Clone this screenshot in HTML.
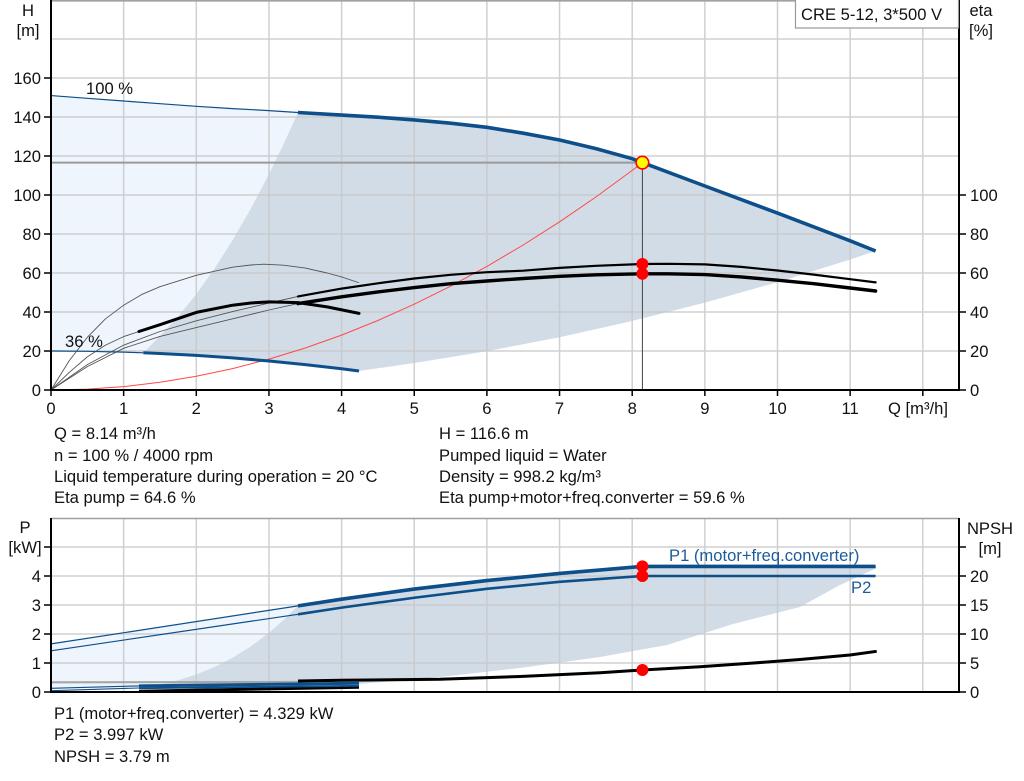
<!DOCTYPE html>
<html><head><meta charset="utf-8"><style>
html,body{margin:0;padding:0;background:#fff;}
svg{display:block;}
text{font-family:"Liberation Sans",Arial,sans-serif;font-size:16.6px;fill:#111;}
</style></head><body>
<svg width="1024" height="781" viewBox="0 0 1024 781" xmlns="http://www.w3.org/2000/svg">
<rect width="1024" height="781" fill="#fff"/>
<!-- TOP CHART fills -->
<path fill="#eef5fc" d="M51,95.55 L87.3,98.3 L123.65,101 L160,103.7 L196.3,106.3 L232.6,108.6 L269,110.6 L298,112.5 L283.5,144.3 L269,174.1 L250.8,208.6 L232.6,240.1 L214.5,268.5 L196.3,294.1 L178.1,316.5 L160,336 L143.3,352.8 L123.65,352.1 L87.3,351.3 L51,351 Z"/>
<path fill="#d1dce7" d="M298,112.5 L341.6,115.05 L377.9,117.2 L414.25,119.9 L450.6,123.2 L486.9,127.3 L523.2,133.2 L559.6,140 L595.9,148.6 L632.2,158.7 L642.4,162.6 L704.9,186 L777.5,213.1 L850.2,240.8 L875.6,251 L850.2,259.5 L777.5,282.2 L704.9,302.6 L632.2,321 L559.6,337.2 L486.9,351.2 L414.25,363 L359,371 L341.6,368.8 L305.3,364.6 L269,361 L232.6,357.9 L196.3,355.4 L160,353.5 L143.3,352.8 L160,336 L178.1,316.5 L196.3,294.1 L214.5,268.5 L232.6,240.1 L250.8,208.6 L269,174.1 L283.5,144.3 L298,112.5 Z"/>
<!-- top grid -->
<g stroke="#c8c8c8" stroke-width="1.5" opacity="0.85">
<line x1="123.65" y1="0" x2="123.65" y2="390"/><line x1="196.3" y1="0" x2="196.3" y2="390"/><line x1="268.95" y1="0" x2="268.95" y2="390"/><line x1="341.6" y1="0" x2="341.6" y2="390"/><line x1="414.25" y1="0" x2="414.25" y2="390"/><line x1="486.9" y1="0" x2="486.9" y2="390"/><line x1="559.55" y1="0" x2="559.55" y2="390"/><line x1="632.2" y1="0" x2="632.2" y2="390"/><line x1="704.85" y1="0" x2="704.85" y2="390"/><line x1="777.5" y1="0" x2="777.5" y2="390"/><line x1="850.15" y1="0" x2="850.15" y2="390"/><line x1="922.8" y1="0" x2="922.8" y2="390"/>
<line x1="51" y1="351" x2="959" y2="351"/><line x1="51" y1="312" x2="959" y2="312"/><line x1="51" y1="273" x2="959" y2="273"/><line x1="51" y1="234" x2="959" y2="234"/><line x1="51" y1="195" x2="959" y2="195"/><line x1="51" y1="156" x2="959" y2="156"/><line x1="51" y1="117" x2="959" y2="117"/><line x1="51" y1="78" x2="959" y2="78"/><line x1="51" y1="39" x2="959" y2="39"/>
</g>
<line x1="51" y1="0.8" x2="959" y2="0.8" stroke="#a0a0a0" stroke-width="1.6"/>
<!-- operating point lines -->
<line x1="51" y1="162.6" x2="642.4" y2="162.6" stroke="#9a9a9a" stroke-width="2"/>
<line x1="642.4" y1="162.6" x2="642.4" y2="390" stroke="#444" stroke-width="1"/>
<!-- red system curve -->
<path fill="none" stroke="#ff4a4a" stroke-width="1" d="M51,390 L87.3,389.1 L123.65,386.6 L160,382.3 L196.3,376.3 L232.6,368.6 L269,359.1 L305.3,348 L341.6,335.1 L377.9,320.5 L414.25,304.2 L450.6,286.2 L486.9,266.4 L523.2,245 L559.6,221.8 L595.9,197 L632.2,170.4 L642.4,162.6"/>
<!-- eta thin lines -->
<g fill="none" stroke="#555" stroke-width="0.9" stroke-linejoin="round">
<path d="M51,390 L69.2,360.75 L87.3,337.35 L105.5,318.8 L123.65,305.2 L141.8,294.45 L160,286.65 L196.3,275.3 L232.6,267.15 L250.8,265 L263.9,264.2 L283.5,265.2 L305.3,268.1 L327.1,273 L341.6,276.9 L359,282.75"/>
<path d="M51,390 L69.2,372.45 L87.3,356.85 L105.5,345.15 L123.65,336.6 L138.9,331.5"/>
<path d="M51,390 L87.3,364.65 L123.65,345.15 L160,331.5 L196.3,320.8 L232.6,311.6 L269,303 L298,296.4"/>
<path d="M51,390 L87.3,366.6 L123.65,348.3 L160,336.4 L196.3,327.6 L232.6,318.8 L269,310 L298,303.6"/>
</g>
<!-- eta thick -->
<g fill="none" stroke="#000" stroke-linejoin="round" stroke-linecap="round">
<path stroke-width="3" d="M138.9,331.5 L160,324.7 L196.3,312.4 L232.6,305.2 L250.8,303 L269,301.9 L298,302.6 L327.1,306.9 L359,313.4"/>
<path stroke-width="2.2" d="M298,296.4 L341.6,288.6 L377.9,283.3 L414.25,278.5 L450.6,274.8 L486.9,272.2 L523.2,270.7 L559.6,267.9 L595.9,265.8 L642.4,264 L668.5,263.8 L704.9,264.4 L741.2,266.9 L777.5,270.5 L813.8,274.6 L850.2,279.2 L875.6,282.4"/>
<path stroke-width="3.4" d="M298,303.6 L341.6,296.8 L377.9,291.9 L414.25,287.6 L450.6,283.7 L486.9,281 L523.2,278.5 L559.6,276.3 L595.9,274.8 L642.4,273.8 L668.5,273.8 L704.9,274.6 L741.2,276.9 L777.5,280.2 L813.8,283.7 L850.2,288 L875.6,291"/>
</g>
<!-- pump curves -->
<g fill="none" stroke="#0d4f8b" stroke-linejoin="round">
<path stroke-width="1.2" d="M51,95.55 L87.3,98.3 L123.65,101 L160,103.7 L196.3,106.3 L232.6,108.6 L269,110.6 L298,112.5"/>
<path stroke-width="3.6" d="M298,112.5 L341.6,115.05 L377.9,117.2 L414.25,119.9 L450.6,123.2 L486.9,127.3 L523.2,133.2 L559.6,140 L595.9,148.6 L632.2,158.7 L642.4,162.6 L704.9,186 L777.5,213.1 L850.2,240.8 L875.6,251"/>
<path stroke-width="1.2" d="M51,351 L87.3,351.3 L123.65,352.1 L143.3,352.8"/>
<path stroke-width="3" d="M143.3,352.8 L160,353.5 L196.3,355.4 L232.6,357.9 L269,361 L305.3,364.6 L341.6,368.8 L359,371"/>
</g>
<!-- points -->
<circle cx="642.4" cy="264" r="6" fill="#ff0000"/>
<circle cx="642.4" cy="273.8" r="6" fill="#ff0000"/>
<circle cx="642.4" cy="162.6" r="6.3" fill="#ffff00" stroke="#ff0000" stroke-width="1.6"/>
<!-- axes top -->
<g stroke="#000" stroke-width="2">
<line x1="51" y1="0" x2="51" y2="391"/>
<line x1="50" y1="390" x2="960" y2="390"/>
<line x1="959" y1="0" x2="959" y2="391"/>
</g>
<g stroke="#000" stroke-width="1.5">
<line x1="44" y1="390" x2="51" y2="390"/><line x1="44" y1="351" x2="51" y2="351"/><line x1="44" y1="312" x2="51" y2="312"/><line x1="44" y1="273" x2="51" y2="273"/><line x1="44" y1="234" x2="51" y2="234"/><line x1="44" y1="195" x2="51" y2="195"/><line x1="44" y1="156" x2="51" y2="156"/><line x1="44" y1="117" x2="51" y2="117"/><line x1="44" y1="78" x2="51" y2="78"/>
<line x1="959" y1="390" x2="966" y2="390"/><line x1="959" y1="351" x2="966" y2="351"/><line x1="959" y1="312" x2="966" y2="312"/><line x1="959" y1="273" x2="966" y2="273"/><line x1="959" y1="234" x2="966" y2="234"/><line x1="959" y1="195" x2="966" y2="195"/>
<line x1="51" y1="390" x2="51" y2="396"/><line x1="123.65" y1="390" x2="123.65" y2="396"/><line x1="196.3" y1="390" x2="196.3" y2="396"/><line x1="268.95" y1="390" x2="268.95" y2="396"/><line x1="341.6" y1="390" x2="341.6" y2="396"/><line x1="414.25" y1="390" x2="414.25" y2="396"/><line x1="486.9" y1="390" x2="486.9" y2="396"/><line x1="559.55" y1="390" x2="559.55" y2="396"/><line x1="632.2" y1="390" x2="632.2" y2="396"/><line x1="704.85" y1="390" x2="704.85" y2="396"/><line x1="777.5" y1="390" x2="777.5" y2="396"/><line x1="850.15" y1="390" x2="850.15" y2="396"/><line x1="922.8" y1="390" x2="922.8" y2="396"/>
</g>
<g text-anchor="end">
<text x="41" y="396">0</text><text x="41" y="357">20</text><text x="41" y="318">40</text><text x="41" y="279">60</text><text x="41" y="240">80</text><text x="41" y="201">100</text><text x="41" y="162">120</text><text x="41" y="123">140</text><text x="41" y="84">160</text>
</g>
<g>
<text x="970" y="396">0</text><text x="970" y="357">20</text><text x="970" y="318">40</text><text x="970" y="279">60</text><text x="970" y="240">80</text><text x="970" y="201">100</text>
</g>
<g text-anchor="middle">
<text x="51" y="414">0</text><text x="123.65" y="414">1</text><text x="196.3" y="414">2</text><text x="268.95" y="414">3</text><text x="341.6" y="414">4</text><text x="414.25" y="414">5</text><text x="486.9" y="414">6</text><text x="559.55" y="414">7</text><text x="632.2" y="414">8</text><text x="704.85" y="414">9</text><text x="777.5" y="414">10</text><text x="850.15" y="414">11</text>
<text x="28" y="16">H</text><text x="28" y="36">[m]</text>
<text x="981" y="16">eta</text><text x="981" y="36">[%]</text>
</g>
<text x="888" y="414">Q [m³/h]</text>
<text x="86" y="94">100 %</text>
<text x="65" y="347">36 %</text>
<rect x="795.5" y="-1" width="163" height="29" fill="#fff" stroke="#9a9a9a" stroke-width="1.2"/>
<text x="801" y="20">CRE 5-12, 3*500 V</text>
<!-- info text -->
<text x="54" y="439">Q = 8.14 m³/h</text>
<text x="54" y="461">n = 100 % / 4000 rpm</text>
<text x="54" y="482">Liquid temperature during operation = 20 °C</text>
<text x="54" y="503">Eta pump = 64.6 %</text>
<text x="439" y="439">H = 116.6 m</text>
<text x="439" y="461">Pumped liquid = Water</text>
<text x="439" y="482">Density = 998.2 kg/m³</text>
<text x="439" y="503">Eta pump+motor+freq.converter = 59.6 %</text>

<!-- BOTTOM CHART -->
<path fill="#eef5fc" d="M51,643.9 L298,605.9 L283.5,620 L269,632.8 L250.8,646.4 L232.6,657.8 L214.5,667 L196.3,674.4 L178.1,680.2 L160,684.6 L143.3,687.5 L51,689 Z"/>
<path fill="#d1dce7" d="M298,605.9 L341.6,599.2 L414.25,589.05 L486.9,580.6 L559.6,573.4 L642.4,566.4 L875.6,566.4 L876.7,568 L838,586 L800,607 L733,624 L667,645 L600,657 L520,668 L440,677 L359,684 L143.3,687.5 L160,684.6 L178.1,680.2 L196.3,674.4 L214.5,667 L232.6,657.8 L250.8,646.4 L269,632.8 L283.5,620 Z"/>
<g stroke="#c8c8c8" stroke-width="1.5" opacity="0.85">
<line x1="123.65" y1="518" x2="123.65" y2="692"/><line x1="196.3" y1="518" x2="196.3" y2="692"/><line x1="268.95" y1="518" x2="268.95" y2="692"/><line x1="341.6" y1="518" x2="341.6" y2="692"/><line x1="414.25" y1="518" x2="414.25" y2="692"/><line x1="486.9" y1="518" x2="486.9" y2="692"/><line x1="559.55" y1="518" x2="559.55" y2="692"/><line x1="632.2" y1="518" x2="632.2" y2="692"/><line x1="704.85" y1="518" x2="704.85" y2="692"/><line x1="777.5" y1="518" x2="777.5" y2="692"/><line x1="850.15" y1="518" x2="850.15" y2="692"/><line x1="922.8" y1="518" x2="922.8" y2="692"/>
<line x1="51" y1="663" x2="959" y2="663"/><line x1="51" y1="634" x2="959" y2="634"/><line x1="51" y1="605" x2="959" y2="605"/><line x1="51" y1="576" x2="959" y2="576"/><line x1="51" y1="547" x2="959" y2="547"/>
</g>
<line x1="51" y1="518.5" x2="959" y2="518.5" stroke="#a0a0a0" stroke-width="1.6"/>
<g fill="none" stroke-linejoin="round">
<path stroke="#a6a6a6" stroke-width="2.2" d="M51,682.3 L298,682"/>
<path stroke="#000" stroke-width="3" d="M298,681 L341.6,680.3 L440,679.3 L520,676.5 L600,672.7 L642.4,670 L700,666.7 L750,663.3 L800,659.5 L850,655 L876.7,651.3"/>
<path stroke="#000" stroke-width="3" d="M139,691.3 L359,687.2"/>
<path stroke="#0d4f8b" stroke-width="1.2" d="M51,643.9 L298,605.9"/>
<path stroke="#0d4f8b" stroke-width="1.2" d="M51,650.8 L298,614.3"/>
<path stroke="#0d4f8b" stroke-width="3.6" d="M298,605.9 L341.6,599.2 L414.25,589.05 L486.9,580.6 L559.6,573.4 L642.4,566.4 L875.6,566.4"/>
<path stroke="#0d4f8b" stroke-width="2.6" d="M298,614.3 L341.6,607.6 L414.25,597.75 L486.9,588.8 L559.6,581.8 L642.4,576 L875.6,576"/>
<path stroke="#0d4f8b" stroke-width="1.1" d="M51,688.3 L139,685.9"/>
<path stroke="#0d4f8b" stroke-width="1.1" d="M51,690.7 L139,688"/>
<path stroke="#0d4f8b" stroke-width="3" d="M139,685.9 L359,683.3"/>
<path stroke="#0d4f8b" stroke-width="1.8" d="M139,688.2 L359,685.8"/>
</g>
<circle cx="642.4" cy="566.4" r="6" fill="#ff0000"/>
<circle cx="642.4" cy="576" r="6" fill="#ff0000"/>
<circle cx="642.4" cy="670" r="6" fill="#ff0000"/>
<g stroke="#000" stroke-width="2">
<line x1="51" y1="518" x2="51" y2="693"/>
<line x1="50" y1="692" x2="960" y2="692"/>
<line x1="959" y1="518" x2="959" y2="693"/>
</g>
<g stroke="#000" stroke-width="1.5">
<line x1="44" y1="692" x2="51" y2="692"/><line x1="44" y1="663" x2="51" y2="663"/><line x1="44" y1="634" x2="51" y2="634"/><line x1="44" y1="605" x2="51" y2="605"/><line x1="44" y1="576" x2="51" y2="576"/><line x1="44" y1="547" x2="51" y2="547"/>
<line x1="959" y1="692" x2="966" y2="692"/><line x1="959" y1="663" x2="966" y2="663"/><line x1="959" y1="634" x2="966" y2="634"/><line x1="959" y1="605" x2="966" y2="605"/><line x1="959" y1="576" x2="966" y2="576"/><line x1="959" y1="547" x2="966" y2="547"/>
</g>
<g text-anchor="end">
<text x="41" y="698">0</text><text x="41" y="669">1</text><text x="41" y="640">2</text><text x="41" y="611">3</text><text x="41" y="582">4</text>
</g>
<g>
<text x="970" y="698">0</text><text x="970" y="669">5</text><text x="970" y="640">10</text><text x="970" y="611">15</text><text x="970" y="582">20</text>
</g>
<g text-anchor="middle">
<text x="25" y="533">P</text><text x="25" y="553">[kW]</text>
<text x="990" y="534">NPSH</text><text x="990" y="554">[m]</text>
</g>
<text x="669" y="561" style="fill:#1d5c99">P1 (motor+freq.converter)</text>
<text x="851" y="593" style="fill:#1d5c99">P2</text>
<text x="54" y="719">P1 (motor+freq.converter) = 4.329 kW</text>
<text x="54" y="740">P2 = 3.997 kW</text>
<text x="54" y="762">NPSH = 3.79 m</text>
</svg>
</body></html>
